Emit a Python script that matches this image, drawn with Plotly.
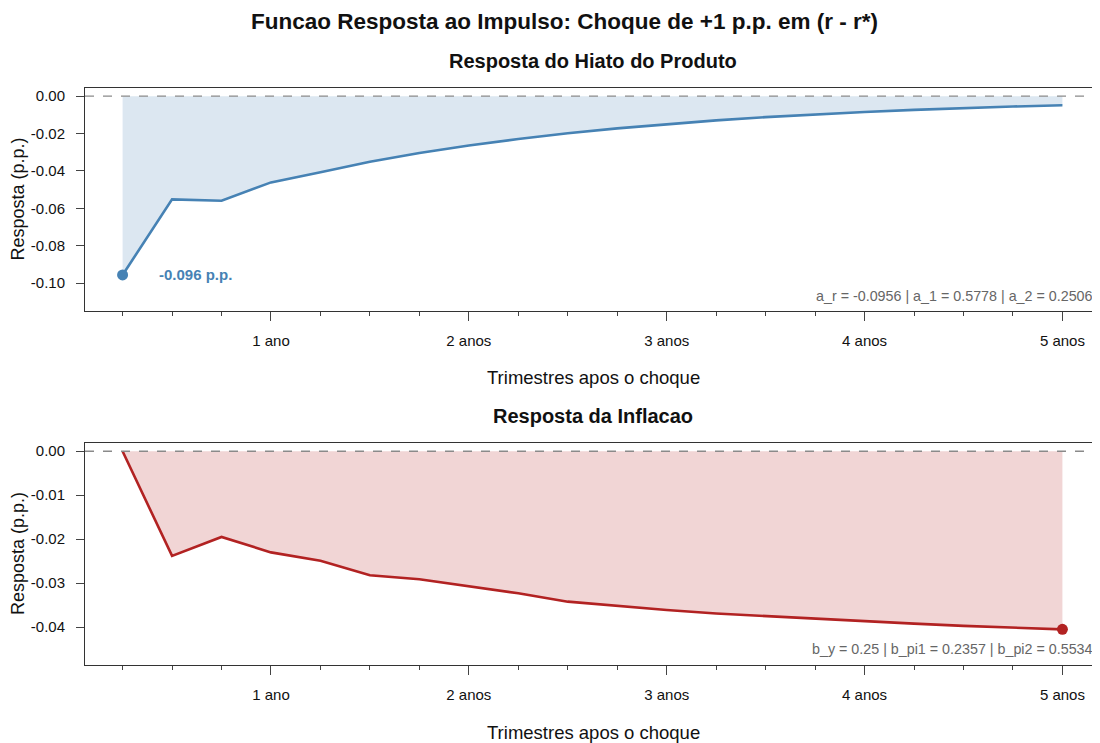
import plotly.graph_objects as go

# ---------------- data ----------------
quarters = list(range(1, 21))
hiato = [-0.0956, -0.0552, -0.0559, -0.0461, -0.0407, -0.0351, -0.0304, -0.0264,
         -0.0229, -0.0198, -0.0172, -0.0149, -0.0129, -0.0112, -0.0097, -0.0084,
         -0.0073, -0.0063, -0.0055, -0.0048]
inflacao = [0.0, -0.0238, -0.0195, -0.0230, -0.0249, -0.0282, -0.0291, -0.0307,
            -0.0323, -0.0342, -0.0352, -0.0361, -0.0369, -0.0375, -0.0381, -0.0387,
            -0.0392, -0.0397, -0.0401, -0.0405]
year_ticks = [4, 8, 12, 16, 20]
year_labels = ["1 ano", "2 anos", "3 anos", "4 anos", "5 anos"]
y1_ticks = [0.0, -0.02, -0.04, -0.06, -0.08, -0.10]
y1_labels = ["0.00", "-0.02", "-0.04", "-0.06", "-0.08", "-0.10"]
y2_ticks = [0.0, -0.01, -0.02, -0.03, -0.04]
y2_labels = ["0.00", "-0.01", "-0.02", "-0.03", "-0.04"]
params_y = "a_r = -0.0956 | a_1 = 0.5778 | a_2 = 0.2506"
params_pi = "b_y = 0.25 | b_pi1 = 0.2357 | b_pi2 = 0.5534"

main_title = "Funcao Resposta ao Impulso: Choque de +1 p.p. em (r - r*)"
title_top = "Resposta do Hiato do Produto"
title_bot = "Resposta da Inflacao"
xlabel = "Trimestres apos o choque"
ylabel = "Resposta (p.p.)"

BLUE = "#4682B4"
RED = "#B22222"
FONT = "Liberation Sans, Arial, sans-serif"

W, H = 1100, 743
OFF = 8  # page body margin offset


def px_x(p):
    return (p - OFF) / W


def px_y(p):
    return 1 - (p - OFF) / H


fig = go.Figure()

# top panel
fig.add_trace(go.Scatter(x=quarters, y=hiato, mode="lines", xaxis="x", yaxis="y",
                         line=dict(color=BLUE, width=2.6), fill="tozeroy",
                         fillcolor="rgba(70,130,180,0.19)", showlegend=False,
                         hoverinfo="skip"))
fig.add_trace(go.Scatter(x=[quarters[0]], y=[hiato[0]], mode="markers", xaxis="x", yaxis="y",
                         marker=dict(color=BLUE, size=11), showlegend=False))
# bottom panel
fig.add_trace(go.Scatter(x=quarters, y=inflacao, mode="lines", xaxis="x2", yaxis="y2",
                         line=dict(color=RED, width=2.6), fill="tozeroy",
                         fillcolor="rgba(178,34,34,0.19)", showlegend=False,
                         hoverinfo="skip"))
fig.add_trace(go.Scatter(x=[quarters[-1]], y=[inflacao[-1]], mode="markers", xaxis="x2", yaxis="y2",
                         marker=dict(color=RED, size=11), showlegend=False))

xdom = [px_x(85), px_x(1100)]
ydom_top = [px_y(311), px_y(88)]
ydom_bot = [px_y(665), px_y(443)]

xcommon = dict(range=[0.24, 20.76], tickmode="array", tickvals=year_ticks, ticktext=year_labels,
               ticks="outside", ticklen=9, tickwidth=1, tickcolor="#444",
               showline=True, linecolor="#333", linewidth=1, mirror=True,
               showgrid=False, zeroline=False,
               tickfont=dict(family=FONT, size=15, color="#111"),
               ticklabelstandoff=7,
               minor=dict(tickvals=quarters, ticks="outside", ticklen=4, tickwidth=1,
                          tickcolor="#444", showgrid=False))
ycommon = dict(ticks="outside", ticklen=8, tickwidth=1, tickcolor="#444",
               showline=True, linecolor="#333", linewidth=1, mirror=False,
               showgrid=False, zeroline=False, tickmode="array",
               tickfont=dict(family=FONT, size=15, color="#111"),
               ticklabelstandoff=8)

fig.update_layout(
    width=W, height=H,
    margin=dict(l=0, r=0, t=0, b=0),
    paper_bgcolor="white", plot_bgcolor="white",
    font=dict(family=FONT, color="#111"),
    xaxis=dict(domain=xdom, anchor="y", **xcommon),
    yaxis=dict(domain=ydom_top, anchor="x", range=[-0.1149, 0.0044],
               tickvals=y1_ticks, ticktext=y1_labels, **ycommon),
    xaxis2=dict(domain=xdom, anchor="y2", **xcommon),
    yaxis2=dict(domain=ydom_bot, anchor="x2", range=[-0.0486, 0.00187],
                tickvals=y2_ticks, ticktext=y2_labels, **ycommon),
    shapes=[
        dict(type="line", xref="x domain", yref="y", x0=0, x1=1, y0=0, y1=0,
             line=dict(color="#8a8a8a", width=1.3, dash="dash"), layer="above"),
        dict(type="line", xref="x2 domain", yref="y2", x0=0, x1=1, y0=0, y1=0,
             line=dict(color="#8a8a8a", width=1.3, dash="dash"), layer="above"),
    ],
)

ann = []
ann.append(dict(text=f"<b>{main_title}</b>", xref="paper", yref="paper",
                x=px_x(564), y=px_y(22), xanchor="center", yanchor="middle",
                showarrow=False, font=dict(family=FONT, size=22.5, color="#111")))
ann.append(dict(text=f"<b>{title_top}</b>", xref="paper", yref="paper",
                x=px_x(593), y=px_y(61), xanchor="center", yanchor="middle",
                showarrow=False, font=dict(family=FONT, size=20, color="#111")))
ann.append(dict(text=f"<b>{title_bot}</b>", xref="paper", yref="paper",
                x=px_x(593), y=px_y(416), xanchor="center", yanchor="middle",
                showarrow=False, font=dict(family=FONT, size=20, color="#111")))
for yy in (377, 732):
    ann.append(dict(text=xlabel, xref="paper", yref="paper", x=px_x(593), y=px_y(yy),
                    xanchor="center", yanchor="middle", showarrow=False,
                    font=dict(family=FONT, size=18.5, color="#111")))
for yy in (199.5, 554):
    ann.append(dict(text=ylabel, xref="paper", yref="paper", x=px_x(18), y=px_y(yy),
                    xanchor="center", yanchor="middle", showarrow=False, textangle=-90,
                    font=dict(family=FONT, size=18, color="#111")))
ann.append(dict(text=params_y, xref="paper", yref="paper", x=px_x(1095), y=px_y(296),
                xanchor="right", yanchor="middle", showarrow=False,
                font=dict(family=FONT, size=14.3, color="#666")))
ann.append(dict(text=params_pi, xref="paper", yref="paper", x=px_x(1095), y=px_y(649),
                xanchor="right", yanchor="middle", showarrow=False,
                font=dict(family=FONT, size=14.3, color="#666")))
ann.append(dict(text=f"<b>{hiato[0]:.3f} p.p.</b>", xref="x", yref="y",
                x=quarters[0], y=hiato[0], xshift=34, xanchor="left", yanchor="middle",
                showarrow=False, font=dict(family=FONT, size=15, color=BLUE)))
ann.append(dict(text=f"<b>{inflacao[-1]:.3f} p.p.</b>", xref="x2", yref="y2",
                x=quarters[-1], y=inflacao[-1], xshift=32, xanchor="left", yanchor="middle",
                showarrow=False, font=dict(family=FONT, size=15, color=RED)))
fig.update_layout(annotations=ann)

fig.write_html("out.html")
